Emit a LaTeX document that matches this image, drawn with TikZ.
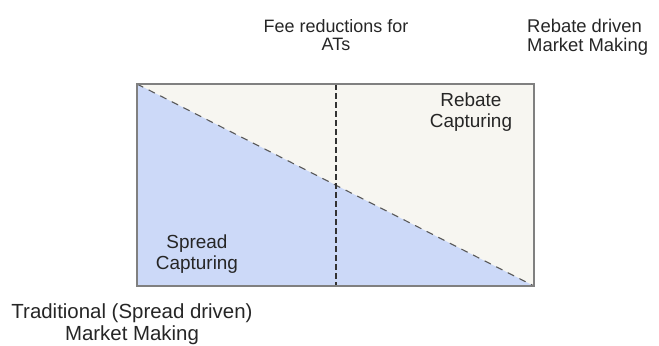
\documentclass[tikz,border=0pt]{standalone}
\usepackage{fontspec}
\setmainfont{Liberation Sans}
\begin{document}
\begin{tikzpicture}[x=1bp,y=-1bp,
  lbl/.style={text=black!85, align=center, inner sep=0pt},
  boxline/.style={draw=black!50, line width=1.2bp},
  diag/.style={draw=black!65, line width=1.1bp, dash pattern=on 7bp off 6bp},
  vdash/.style={draw=black!80, line width=1.2bp, dash pattern=on 6bp off 3bp}]
\useasboundingbox (0,0) rectangle (659,345);
\coordinate (tl) at (137,84);
\coordinate (tr) at (534,84);
\coordinate (br) at (534,286);
\coordinate (bl) at (137,286);
\coordinate (vt) at (336,84);
\coordinate (vb) at (336,286);
\fill[fill={rgb,255:red,247;green,246;blue,241}] (tl) rectangle (br);
\fill[fill={rgb,255:red,204;green,217;blue,248}] (tl) -- (br) -- (bl) -- cycle;
\draw[diag] (tl) -- (br);
\draw[vdash] (vt) -- (vb);
\draw[boxline] (tl) rectangle (br);
\node[lbl, font=\fontsize{18}{18}\selectfont] (fee) at (336,35) {Fee reductions for\\ATs};
\node[lbl, align=left, anchor=west, font=\fontsize{18.5}{19}\selectfont] (rdm) at (527,37) {Rebate driven\\Market Making};
\node[lbl, font=\fontsize{19}{21.5}\selectfont] (rc) at (471,112) {Rebate\\Capturing};
\node[lbl, font=\fontsize{19}{21.5}\selectfont] (sc) at (197,254) {Spread\\Capturing};
\node[lbl, font=\fontsize{20.5}{22}\selectfont] (trad) at (132,324) {Traditional (Spread driven)\\Market Making};
\end{tikzpicture}
\end{document}
